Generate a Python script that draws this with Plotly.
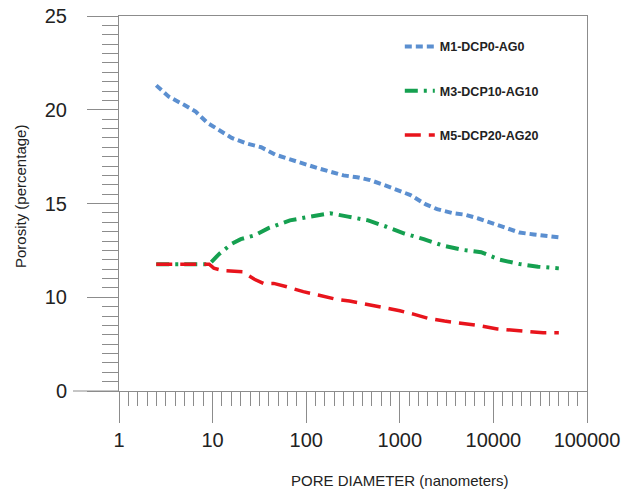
import plotly.graph_objects as go

# ---- data ----
m1_x = [2.5, 3.4, 5.0, 6.6, 8.8, 11.7, 16, 23, 33, 47, 62, 93, 130, 180, 250, 350, 480, 670, 930,
        1300, 1900, 2500, 3600, 5000, 6900, 9600, 14000, 19000, 27000, 39000, 50000]
m1_y = [21.3, 20.7, 20.25, 19.9, 19.3, 18.9, 18.5, 18.2, 18.0, 17.6, 17.4, 17.1, 16.9, 16.7, 16.5,
        16.4, 16.25, 16.0, 15.75, 15.45, 14.95, 14.7, 14.5, 14.4, 14.2, 13.95, 13.7, 13.45, 13.35,
        13.28, 13.2]

m3_x = [2.5, 5, 9.2, 11.7, 16, 20, 28, 40, 67, 110, 180, 280, 460, 720, 1120, 1800, 2900, 4800,
        7400, 11700, 19000, 30000, 50000]
m3_y = [11.76, 11.76, 11.76, 12.3, 12.85, 13.1, 13.3, 13.7, 14.1, 14.3, 14.48, 14.3, 14.1, 13.76,
        13.4, 13.1, 12.75, 12.52, 12.4, 12.0, 11.77, 11.63, 11.54]

m5_x = [2.5, 5, 9.2, 10.3, 13, 21, 28, 35, 45, 62, 93, 134, 210, 290, 440, 640, 1000, 1400, 2000,
        3000, 5000, 7200, 11000, 16000, 24000, 34000, 50000]
m5_y = [11.76, 11.76, 11.76, 11.55, 11.42, 11.36, 10.96, 10.74, 10.74, 10.56, 10.3, 10.12, 9.89,
        9.8, 9.62, 9.5, 9.28, 9.1, 8.88, 8.73, 8.61, 8.48, 8.31, 8.25, 8.16, 8.11, 8.11]

series_names = ["M1-DCP0-AG0", "M3-DCP10-AG10", "M5-DCP20-AG20"]

x_tickvals = [1, 10, 100, 1000, 10000, 100000]
x_ticktext = ["1", "10", "100", "1000", "10000", "100000"]
y_tickvals = [5, 10, 15, 20, 25]
y_ticktext = ["0", "10", "15", "20", "25"]

AX = "#8c8c8c"
TXT = "#222222"

fig = go.Figure()
fig.add_trace(go.Scatter(x=m1_x, y=m1_y, mode="lines", name=series_names[0], legendgroup="a",
                         line=dict(color="#5b8fd0", width=4, dash="7px,4px")))
fig.add_trace(go.Scatter(x=m3_x, y=m3_y, mode="lines", name=series_names[1], legendgroup="b",
                         line=dict(color="#15a050", width=4, dash="13px,6px,3px,6px")))
fig.add_trace(go.Scatter(x=m5_x, y=m5_y, mode="lines", name=series_names[2], legendgroup="c",
                         line=dict(color="#e8141c", width=3.5, dash="16px,8px")))
# helper trace so the minor-tick overlay axis is drawn
fig.add_trace(go.Scatter(x=[None], y=[None], xaxis="x2", showlegend=False, hoverinfo="skip"))

fig.update_layout(
    width=635, height=491,
    margin=dict(l=119, r=48, t=16, b=100, autoexpand=False),
    paper_bgcolor="white", plot_bgcolor="white",
    font=dict(family="Liberation Sans, Arial, sans-serif", color=TXT),
    showlegend=True,
    legend=dict(x=0.6, y=0.958, xanchor="left", yanchor="top", bgcolor="rgba(0,0,0,0)",
                font=dict(size=12.5, color=TXT, weight="bold"), tracegroupgap=25),
    xaxis=dict(type="log", range=[0, 5], tickvals=x_tickvals, ticktext=x_ticktext,
               ticks="outside", ticklen=31, tickcolor=AX, tickwidth=1, automargin=False,
               showline=True, linecolor=AX, linewidth=1, mirror=True,
               showgrid=False, zeroline=False, tickfont=dict(size=20, color=TXT)),
    xaxis2=dict(overlaying="x", side="bottom", range=[0, 5], showticklabels=False,
                ticks="", showgrid=False, zeroline=False, showline=False, automargin=False,
                minor=dict(dtick=0.1, ticks="outside", ticklen=14, tickcolor=AX, tickwidth=1,
                           showgrid=False)),
    yaxis=dict(range=[5, 25], tickvals=y_tickvals, ticktext=y_ticktext, automargin=False,
               ticks="outside", ticklen=31, tickcolor=AX, tickwidth=1,
               minor=dict(dtick=0.5, ticks="outside", ticklen=16, tickcolor=AX, tickwidth=1,
                          showgrid=False),
               showline=True, linecolor=AX, linewidth=1, mirror=True,
               showgrid=False, zeroline=False, tickfont=dict(size=20, color=TXT),
               ticklabelstandoff=16),
    shapes=[dict(type="line", xref="paper", yref="paper", x0=(73 - 119) / 468, x1=0, y0=0, y1=0,
                 line=dict(color=AX, width=1))],
    annotations=[
        dict(text="PORE DIAMETER (nanometers)", xref="paper", yref="paper",
             x=(400 - 119) / 468, y=(391 - 480) / 375, xanchor="center", yanchor="middle",
             showarrow=False, font=dict(size=15, color=TXT)),
        dict(text="Porosity (percentage)", xref="paper", yref="paper",
             x=(20 - 119) / 468, y=(391 - 197) / 375, xanchor="center", yanchor="middle",
             textangle=-90, showarrow=False, font=dict(size=15, color=TXT)),
    ],
)

fig.write_html("out.html")
